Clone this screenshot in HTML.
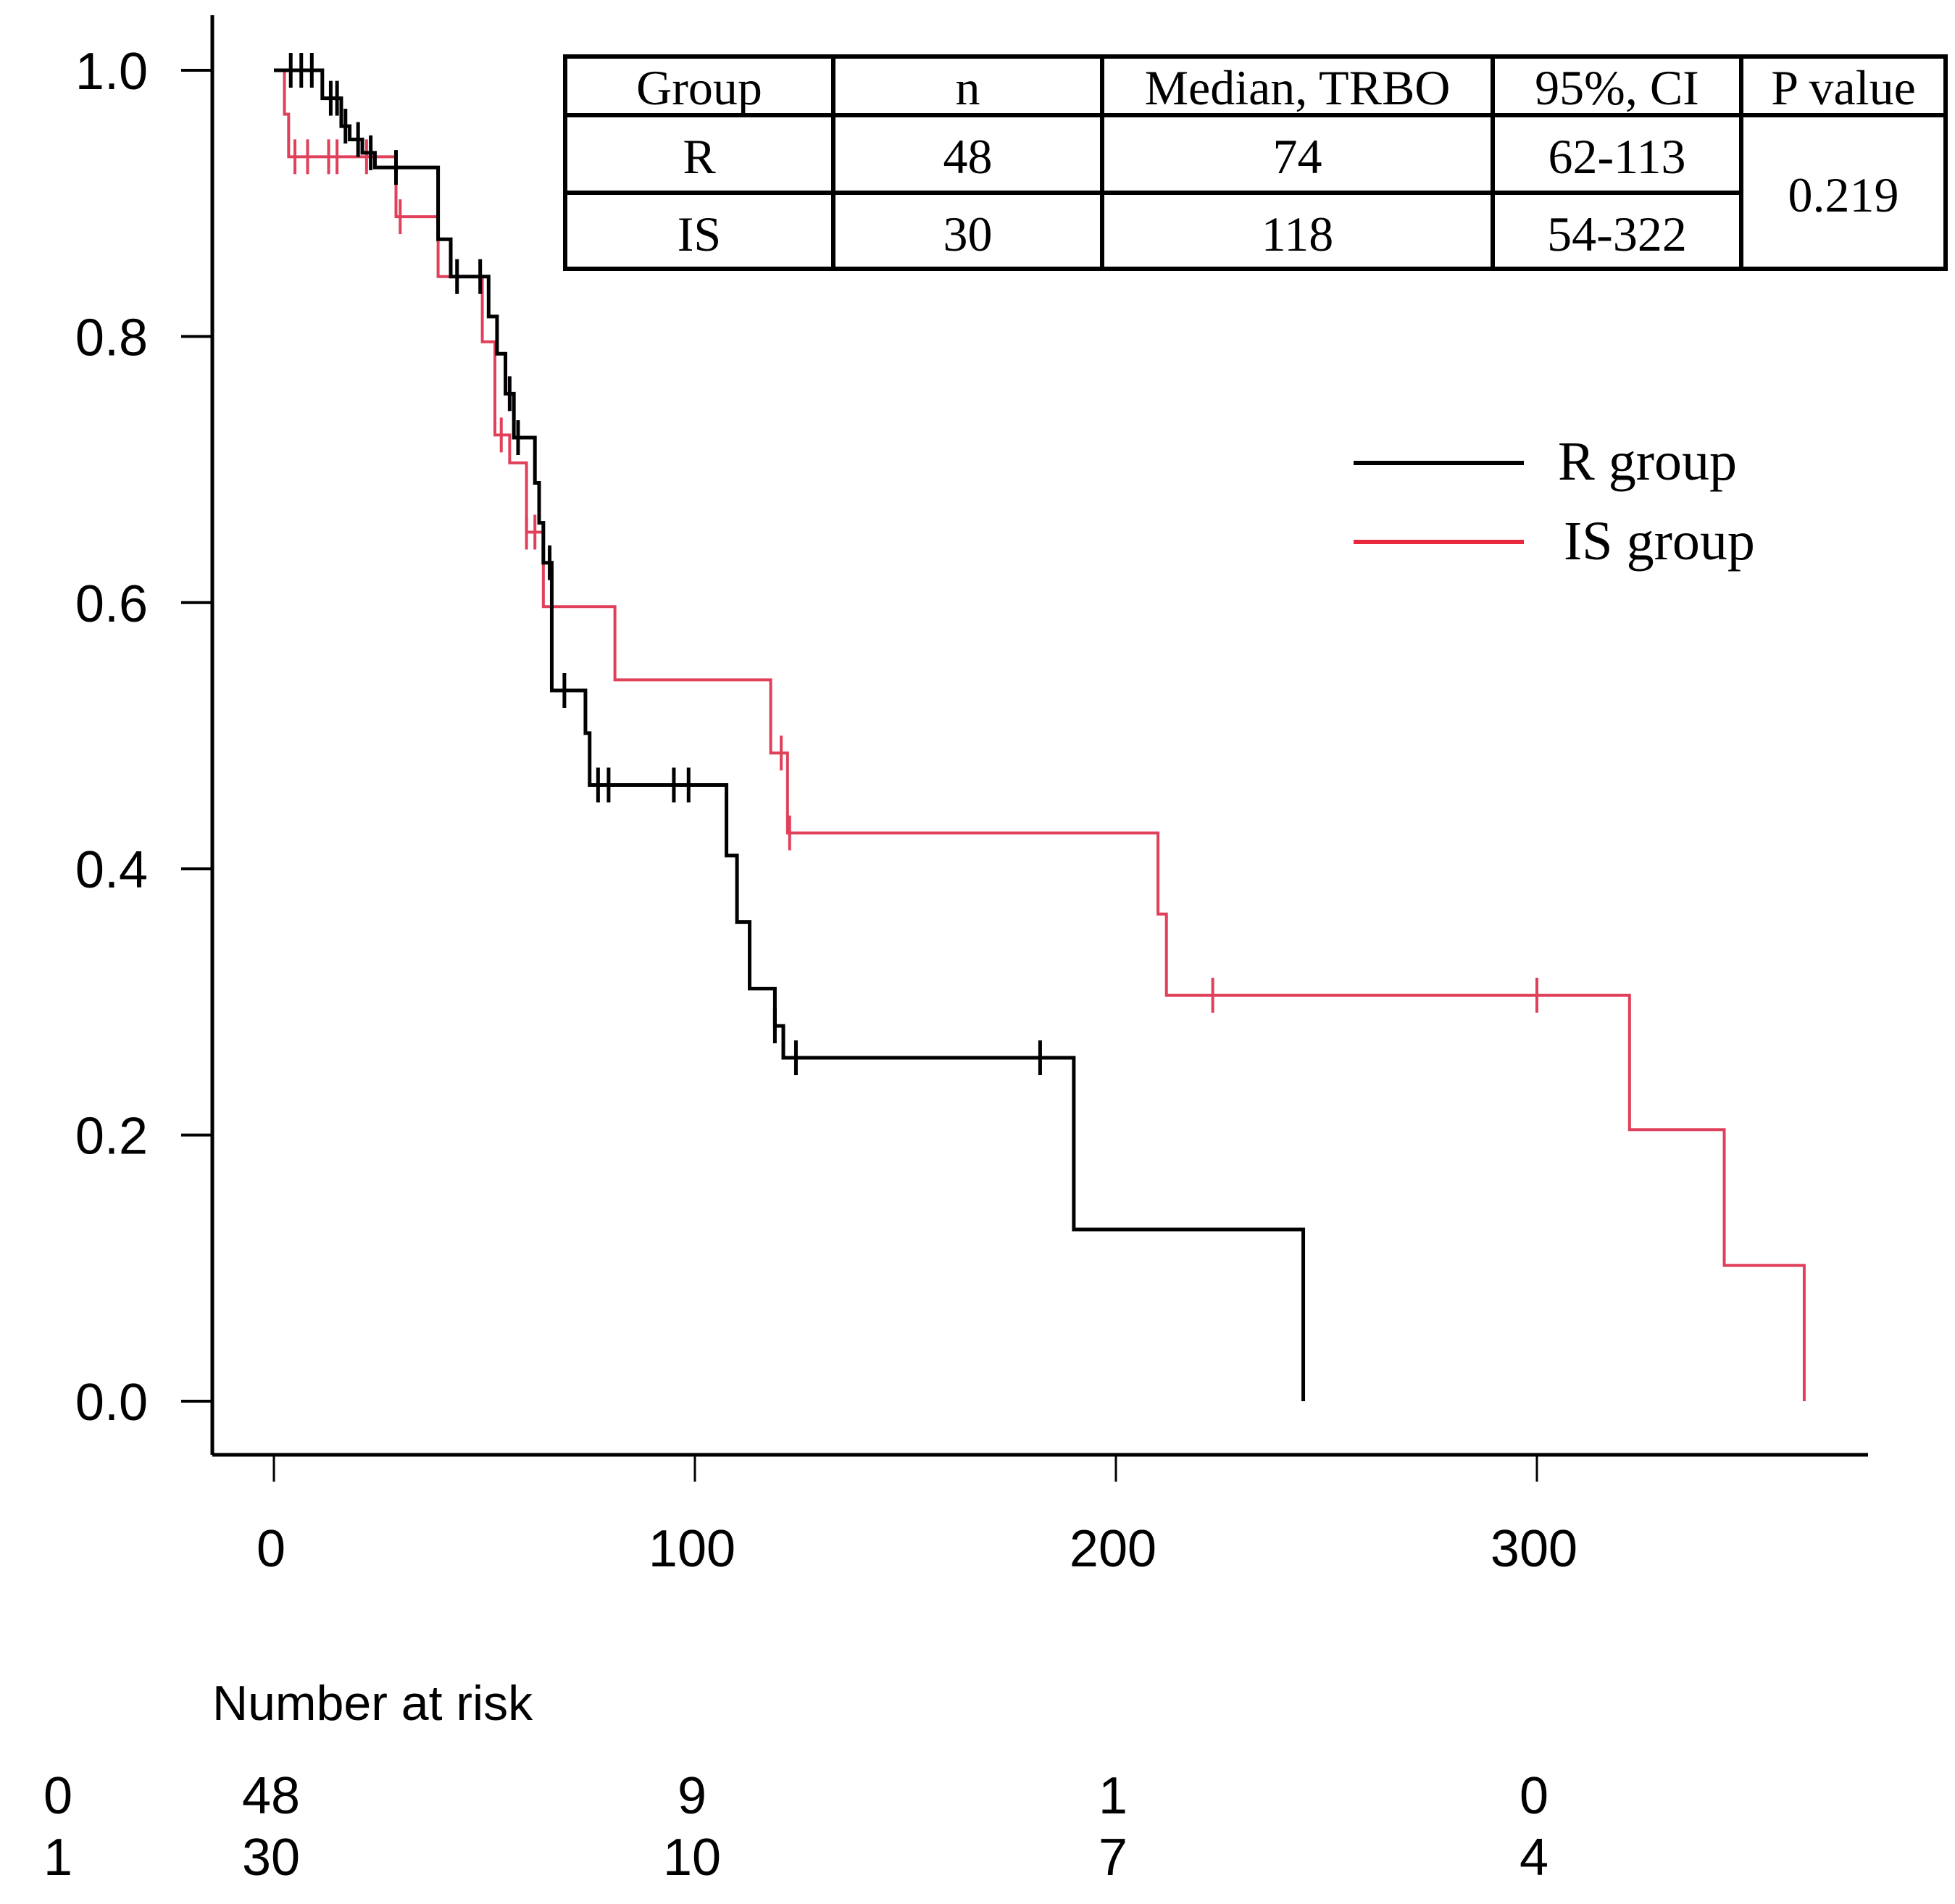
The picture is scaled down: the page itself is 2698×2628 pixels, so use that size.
<!DOCTYPE html>
<html><head><meta charset="utf-8"><style>
html,body{margin:0;padding:0;background:#fff}
svg{display:block}
text{font-family:"Liberation Sans",Arial,sans-serif;fill:#000}
.sf{font-family:"Liberation Serif","Times New Roman",serif}
</style></head><body>
<svg id="chart" width="2698" height="2628" viewBox="0 0 2698 2628" xmlns="http://www.w3.org/2000/svg">
<g id="axes"></g>
<g id="curves"></g>
<g id="table"></g>
<g id="legend"></g>
<g id="risk"></g>
</svg>
<script>
const xTicks=[0,100,200,300];
const yTicks=[0,0.2,0.4,0.6,0.8,1.0];
const yTickLabels=["0.0","0.2","0.4","0.6","0.8","1.0"];
const rTimes=[0,11.5,16,18,21,24,39,42,51,53,55,57,62,63,64,66,74,75,107.5,110,113,119,121,190,244.5];
const rSurv=[1.0,0.979,0.958,0.948,0.938,0.927,0.873,0.845,0.815,0.787,0.757,0.724,0.69,0.66,0.63,0.534,0.502,0.463,0.41,0.36,0.31,0.282,0.258,0.129,0];
const rCensor=[4,6.5,9,13.5,15,17,20,23,29,43.5,49,56,58,65.5,69,77,79.5,95,98.5,119,124,182];
const isTimes=[0,2.5,3.5,29,39,49.5,52.5,56,60,64,81,118,122,210,212,322,344.5,363.5];
const isSurv=[1.0,0.967,0.935,0.89,0.845,0.796,0.726,0.705,0.653,0.597,0.542,0.487,0.427,0.366,0.305,0.204,0.102,0];
const isCensor=[5,8,13,15,22,30,54,60,62,120.5,122.5,223,300];
const riskGroups=["0","1"];
const riskR=[48,9,1,0];
const riskIS=[30,10,7,4];
const tableHeader=["Group","n","Median, TRBO","95%, CI","P value"];
const tableR=["R","48","74","62-113"];
const tableIS=["IS","30","118","54-322"];
const pValue="0.219";

const NS="http://www.w3.org/2000/svg";
const X=t=>378+t*5.81;
const Y=s=>1934-s*1837;
function mk(tag,attrs,parent,txt){const e=document.createElementNS(NS,tag);for(const k in attrs)e.setAttribute(k,attrs[k]);if(txt!==undefined)e.textContent=txt;parent.appendChild(e);return e;}
const axes=document.getElementById('axes');
let e;
e=mk('line',{x1:293,y1:21,x2:293,y2:2008,stroke:'#000','stroke-width':5},axes);


e=mk('line',{x1:293,y1:2008,x2:2578,y2:2008,stroke:'#000','stroke-width':5},axes);


yTicks.forEach((v,i)=>{
 e=mk('line',{x1:250,y1:Y(v),x2:293,y2:Y(v),stroke:'#000','stroke-width':4},axes);
 
 
 e=mk('text',{x:204,y:Y(v)+26,'text-anchor':'end','font-size':72},axes,yTickLabels[i]);
 
 
});
xTicks.forEach(v=>{
 e=mk('line',{x1:X(v),y1:2008,x2:X(v),y2:2045,stroke:'#000','stroke-width':3},axes);
 
 
 e=mk('text',{x:X(v)-4,y:2162,'text-anchor':'middle','font-size':72},axes,String(v));
 
 
});
const curves=document.getElementById('curves');
function survAt(times,surv,t){let s=surv[0];for(let i=0;i<times.length;i++){if(times[i]<=t)s=surv[i];}return s;}
function drawCurve(times,surv,cens,color,name,sw){
 let d='M'+X(times[0])+','+Y(surv[0]);
 for(let i=1;i<times.length;i++){d+=' H'+X(times[i])+' V'+Y(surv[i]);}
 const p=mk('path',{d:d,fill:'none',stroke:color,'stroke-width':sw},curves);
 
 
 cens.forEach(t=>{const y=Y(survAt(times,surv,t));
  const c=mk('line',{x1:X(t),y1:y-24,x2:X(t),y2:y+24,stroke:color,'stroke-width':sw},curves);
  
  
 });
}
drawCurve(isTimes,isSurv,isCensor,'#e0405a',"is-group",4);
drawCurve(rTimes,rSurv,rCensor,'#000','r-group',5);
const tb=document.getElementById('table');
const cols=[780,1150,1521,2060,2403,2685];
e=mk('rect',{x:780,y:78,width:1905,height:293,fill:'#fff',stroke:'#000','stroke-width':6},tb);


mk('line',{x1:780,y1:159,x2:2685,y2:159,stroke:'#000','stroke-width':6},tb);
mk('line',{x1:780,y1:266,x2:2403,y2:266,stroke:'#000','stroke-width':6},tb);
for(let i=1;i<5;i++)mk('line',{x1:cols[i],y1:78,x2:cols[i],y2:371,stroke:'#000','stroke-width':6},tb);
function cell(txt,cx,cy,name){const t=mk('text',{x:cx,y:cy+23,'text-anchor':'middle','font-size':68,class:'sf'},tb,txt);}
tableHeader.forEach((h,i)=>cell(h,(cols[i]+cols[i+1])/2,121,'table-header'));
tableR.forEach((h,i)=>cell(h,(cols[i]+cols[i+1])/2,216,'table-r-cell'));
tableIS.forEach((h,i)=>cell(h,(cols[i]+cols[i+1])/2,323,'table-is-cell'));
cell(pValue,(cols[4]+cols[5])/2,269,'p-value');
const lg=document.getElementById('legend');
e=mk('line',{x1:1868,y1:639,x2:2103,y2:639,stroke:'#000','stroke-width':6},lg);


e=mk('text',{x:2150,y:662,'font-size':76,class:'sf'},lg,'R group');


e=mk('line',{x1:1868,y1:748,x2:2103,y2:748,stroke:'#e8283c','stroke-width':6},lg);


e=mk('text',{x:2158,y:772,'font-size':76,class:'sf'},lg,'IS group');


const rk=document.getElementById('risk');
e=mk('text',{x:293,y:2374,'font-size':68},rk,'Number at risk');


[[riskR,2503],[riskIS,2588]].forEach((r,gi)=>{
 e=mk('text',{x:80,y:r[1],'text-anchor':'middle','font-size':72},rk,riskGroups[gi]);
 
 
 r[0].forEach((v,i)=>{
  e=mk('text',{x:X(xTicks[i])-4,y:r[1],'text-anchor':'middle','font-size':72},rk,String(v));
  
  
 });
});
</script>
</body></html>
